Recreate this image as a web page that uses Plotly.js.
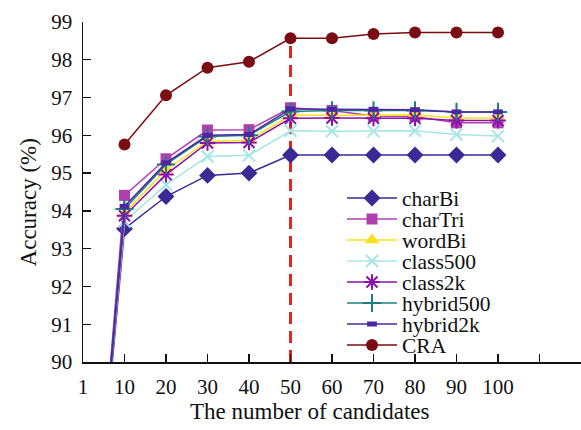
<!DOCTYPE html>
<html>
<head>
<meta charset="utf-8">
<script src="https://cdn.plot.ly/plotly-3.0.1.min.js"></script>
<style>
  html, body { margin: 0; padding: 0; background: #fff; }
  #chart { width: 581px; height: 430px; }
</style>
</head>
<body>
<div id="chart"></div>
<script>
// Number of candidates (x categories); the two trailing slots are empty tick positions
const candidates = ['1', '10', '20', '30', '40', '50', '60', '70', '80', '90', '100'];
const extraSlots = ['110', '120'];
const tickLabels = ['1', '10', '20', '30', '40', '50', '60', '70', '80', '90', '100', '', ''];

// Accuracy (%) per method
const charBi    = [81.5, 93.53, 94.38, 94.94, 95.00, 95.48, 95.48, 95.48, 95.48, 95.48, 95.48];
const charTri   = [81.3, 94.41, 95.38, 96.14, 96.15, 96.73, 96.66, 96.51, 96.50, 96.33, 96.33];
const wordBi    = [81.6, 93.94, 95.09, 95.84, 95.87, 96.53, 96.53, 96.54, 96.54, 96.46, 96.46];
const class500  = [81.6, 93.72, 94.69, 95.44, 95.47, 96.12, 96.11, 96.11, 96.12, 96.02, 95.98];
const class2k   = [81.5, 93.87, 94.96, 95.80, 95.81, 96.45, 96.46, 96.45, 96.45, 96.39, 96.39];
const hybrid500 = [81.5, 94.05, 95.23, 95.97, 96.00, 96.63, 96.66, 96.66, 96.66, 96.62, 96.62];
const hybrid2k  = [81.4, 94.12, 95.27, 96.00, 96.02, 96.70, 96.69, 96.69, 96.68, 96.62, 96.62];
const craCandidates = ['10', '20', '30', '40', '50', '60', '70', '80', '90', '100'];
const CRA       = [95.76, 97.06, 97.79, 97.95, 98.57, 98.57, 98.68, 98.72, 98.72, 98.72];

const chosenK = '50';

const FONT = '"Liberation Serif", "Times New Roman", serif';

const series = [
  { name: 'charBi',    x: candidates,    y: charBi,    color: '#3b2a96', symbol: 'diamond',         size: 13, lw: 0 },
  { name: 'charTri',   x: candidates,    y: charTri,   color: '#b23fb0', symbol: 'square',          size: 11, lw: 0 },
  { name: 'wordBi',    x: candidates,    y: wordBi,    color: '#f6e11a', symbol: 'triangle-up',     size: 13, lw: 0 },
  { name: 'class500',  x: candidates,    y: class500,  color: '#a6e6e6', symbol: 'x-thin-open',     size: 12, lw: 2 },
  { name: 'class2k',   x: candidates,    y: class2k,   color: '#8a12aa', symbol: 'asterisk-open',   size: 13, lw: 2 },
  { name: 'hybrid500', x: candidates,    y: hybrid500, color: '#1c7f80', symbol: 'cross-thin-open', size: 13, lw: 2 },
  { name: 'hybrid2k',  x: candidates,    y: hybrid2k,  color: '#4b28a2', symbol: 'line-ew-open',    size: 7,  lw: 5 },
  { name: 'CRA',       x: craCandidates, y: CRA,       color: '#7a0c14', symbol: 'circle',          size: 12, lw: 0 }
];

// plot-area geometry in pixels, used to place the legend rows
const PLOT = { left: 83, right: 581, top: 22, bottom: 362 };
const legendRowsPx = [198, 219, 240, 261, 282, 303, 324, 345];
const legendLeftPx = 342;

const traces = series.map((s, i) => ({
  type: 'scatter',
  mode: 'lines+markers',
  name: s.name,
  x: s.x,
  y: s.y,
  legend: i === 0 ? 'legend' : 'legend' + (i + 1),
  line: { color: s.color, width: 1.5 },
  marker: {
    symbol: s.symbol,
    size: s.size,
    color: s.color,
    line: { color: s.color, width: s.lw }
  }
}));

// dashed marker line at the chosen K, up to the CRA value there
const kIdx = craCandidates.indexOf(chosenK);
traces.unshift({
  type: 'scatter',
  mode: 'lines',
  x: [chosenK, chosenK],
  y: [90, CRA[kIdx]],
  line: { color: '#e3261a', width: 3, dash: '12px,7px' },
  showlegend: false,
  hoverinfo: 'skip'
});

const layout = {
  width: 581,
  height: 430,
  margin: { l: PLOT.left, r: 581 - PLOT.right, t: PLOT.top, b: 430 - PLOT.bottom, autoexpand: false },
  paper_bgcolor: '#fff',
  plot_bgcolor: '#fff',
  font: { family: FONT, color: '#111', size: 21 },
  xaxis: {
    type: 'category',
    categoryorder: 'array',
    categoryarray: candidates.concat(extraSlots),
    range: [0, 12],
    tickmode: 'array',
    tickvals: candidates.concat(extraSlots),
    ticktext: tickLabels,
    tickangle: 0,
    ticks: 'inside',
    ticklen: 8,
    tickwidth: 1.3,
    tickcolor: '#111',
    showline: true,
    linecolor: '#111',
    linewidth: 1.5,
    showgrid: false,
    zeroline: false,
    ticklabelstandoff: 5,
    tickfont: { family: FONT, size: 21, color: '#111' }
  },
  yaxis: {
    range: [90, 99],
    tickvals: [90, 91, 92, 93, 94, 95, 96, 97, 98, 99],
    ticks: 'inside',
    ticklen: 8,
    tickwidth: 1.3,
    tickcolor: '#111',
    showline: true,
    linecolor: '#111',
    linewidth: 1.5,
    showgrid: false,
    zeroline: false,
    ticklabelstandoff: 5,
    tickfont: { family: FONT, size: 21, color: '#111' }
  },
  showlegend: true,
  annotations: [
    {
      text: 'The number of candidates',
      xref: 'paper', yref: 'paper',
      x: 0.456, y: -0.146,
      xanchor: 'center', yanchor: 'middle',
      showarrow: false,
      font: { family: FONT, size: 23, color: '#111' }
    },
    {
      text: 'Accuracy (%)',
      xref: 'paper', yref: 'paper',
      x: -0.110, y: 0.47,
      textangle: -90,
      xanchor: 'center', yanchor: 'middle',
      showarrow: false,
      font: { family: FONT, size: 23, color: '#111' }
    },
    {
      text: '<i>K</i>=' + chosenK,
      xref: 'x', yref: 'paper',
      x: chosenK, y: 1.02,
      xshift: -13,
      xanchor: 'center', yanchor: 'middle',
      showarrow: false,
      font: { family: FONT, size: 22, color: '#111' }
    }
  ]
};

const pw = PLOT.right - PLOT.left, ph = PLOT.bottom - PLOT.top;
legendRowsPx.forEach((py, i) => {
  const key = i === 0 ? 'legend' : 'legend' + (i + 1);
  layout[key] = {
    xref: 'paper', yref: 'paper',
    x: (legendLeftPx - PLOT.left) / pw,
    y: (PLOT.bottom - py) / ph,
    xanchor: 'left', yanchor: 'middle',
    bgcolor: 'rgba(0,0,0,0)',
    borderwidth: 0,
    itemwidth: 50,
    font: { family: FONT, size: 21.5, color: '#111' }
  };
});

Plotly.newPlot('chart', traces, layout, { displayModeBar: false, staticPlot: true });
</script>
</body>
</html>
